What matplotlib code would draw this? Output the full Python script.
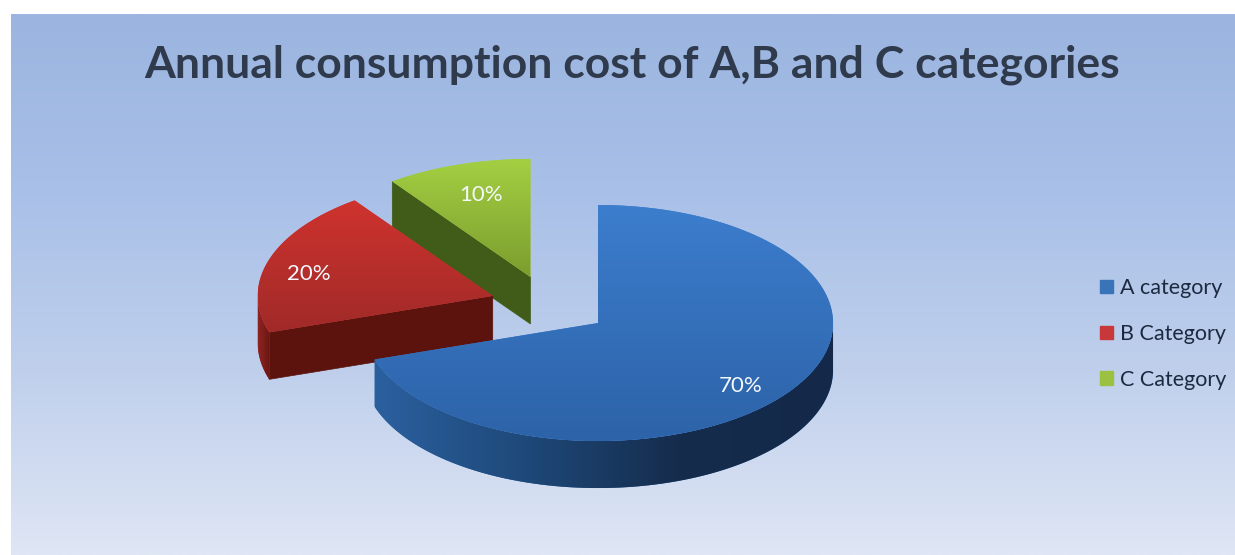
import numpy as np
import matplotlib
matplotlib.use("Agg")
import matplotlib.pyplot as plt
from matplotlib.patches import Polygon, Patch
from matplotlib.colors import LinearSegmentedColormap as LSC

categories = ["A category", "B Category", "C Category"]
shares = [70, 20, 10]
title = "Annual consumption cost of A,B and C categories"

W, H = 1235, 555
CX, CY, RX, RY = 548.6, 305.0, 235.0, 118.0
DEPTH = 47.0 / RY
EXPLODES = [0.26, 0.25, 0.25]
LABEL_SHIFT = [(-6, -9), (-10, -7), (7, -6)]  # pixels, right / up

top_cols = [("#3c7dcd", "#2d63a8"), ("#cf332e", "#a02a29"), ("#a4cf42", "#7b9d2e")]
wall_cols = [["#2b609f", "#1e4878", "#152c4c", "#14294a"], ["#8e2421", "#6a1712"], ["#4a6a1e", "#4a6a1e"]]
cut_cols = ["#1e4878", "#5c130e", "#405c18"]
leg_cols = ["#3a74b8", "#c8383a", "#9cc040"]

fig = plt.figure(figsize=(W / 100, H / 100), dpi=100, facecolor="white")

bg = fig.add_axes([11 / W, 0, 1 - 11 / W, 1 - 14 / H], zorder=0)
bg.imshow(np.linspace(0, 1, 256).reshape(-1, 1), aspect="auto",
          cmap=LSC.from_list("bg", ["#9bb5e0", "#a9c0e8", "#c0d0ec", "#dfe6f5"]))
bg.axis("off")

ax = fig.add_axes([0, 0, 1, 1], zorder=1)
ax.patch.set_visible(False)
wedges, _, autos = ax.pie(shares, explode=EXPLODES, startangle=90, counterclock=False,
                          autopct="%.0f%%", pctdistance=0.78, colors=leg_cols,
                          textprops=dict(family="Lato", fontsize=16, color="#f4f8fc"))


def gradient(poly, colors, horizontal, z):
    ax.add_patch(poly)
    xy = poly.get_xy()
    x0, x1, y0, y1 = xy[:, 0].min(), xy[:, 0].max(), xy[:, 1].min(), xy[:, 1].max()
    arr = np.linspace(0, 1, 256).reshape(1, -1) if horizontal else np.linspace(0, 1, 256).reshape(-1, 1)
    im = ax.imshow(arr, extent=(x0, x1, y0, y1), origin="upper", aspect="auto", zorder=z,
                   cmap=LSC.from_list("g", colors), interpolation="bilinear")
    im.set_clip_path(poly)


for i in [2, 1, 0]:
    w = wedges[i]
    base = 10 + (2 - i) * 5
    cx, cy = w.center
    t = np.radians(np.linspace(w.theta1, w.theta2, 500))
    arc = np.column_stack([cx + w.r * np.cos(t), cy + w.r * np.sin(t)])
    mid = t[len(t) // 2]
    # cut faces that look towards the viewer
    for th in (t[0], t[-1]):
        n = np.array([-np.sin(th), np.cos(th)])
        if n @ [np.cos(mid), np.sin(mid)] > 0:
            n = -n
        if n[1] < -1e-6:
            p = np.array([cx + w.r * np.cos(th), cy + w.r * np.sin(th)])
            c = np.array([cx, cy])
            ax.add_patch(Polygon([c, p, p - [0, DEPTH], c - [0, DEPTH]], closed=True,
                                 facecolor=cut_cols[i], edgecolor=cut_cols[i], lw=0.5, zorder=base))
    # outer wall
    front = arc[np.sin(t) <= 0]
    if len(front) > 1:
        wall = Polygon(np.vstack([front, (front - [0, DEPTH])[::-1]]), closed=True,
                       facecolor=wall_cols[i][0], edgecolor="none", zorder=base + 1)
        gradient(wall, wall_cols[i], True, base + 1)
    # top surface
    top = Polygon(np.vstack([[cx, cy], arc]), closed=True, facecolor=top_cols[i][0],
                  edgecolor="none", zorder=base + 2)
    gradient(top, top_cols[i], False, base + 2)
    w.set_visible(False)
    x, y = autos[i].get_position()
    autos[i].set_position((x + LABEL_SHIFT[i][0] / RX, y + LABEL_SHIFT[i][1] / RY))
    autos[i].set_zorder(40)

ax.set_aspect("auto")
ax.set_xlim((0 - CX) / RX, (W - CX) / RX)
ax.set_ylim((CY - H) / RY, CY / RY)
ax.axis("off")

handles = [Patch(facecolor=c, edgecolor=c) for c in leg_cols]
ax.legend(handles, categories, loc="center left", bbox_to_anchor=(1100 / W, 1 - 334 / H),
          frameon=False, prop=dict(family="Lato", size=15.5), labelcolor="#1c2a40",
          handlelength=0.6, handleheight=0.6, handletextpad=0.35, labelspacing=1.2,
          borderpad=0, borderaxespad=0)

fig.suptitle(title, x=632 / W, y=1 - 65 / H, ha="center", va="center",
             family="Lato", fontweight="bold", fontsize=32, color="#2f3a4c", zorder=50)

fig.savefig("out.png", dpi=100)
